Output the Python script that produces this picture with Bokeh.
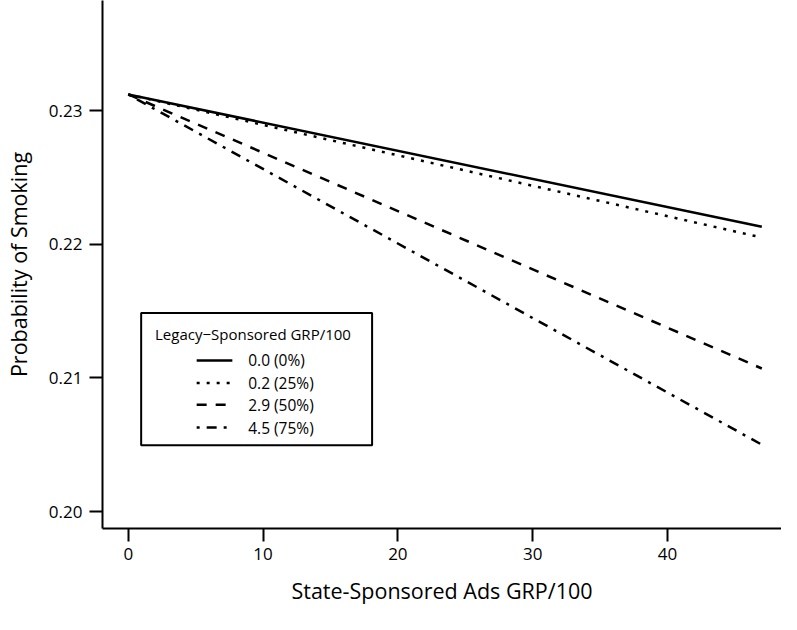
from bokeh.plotting import figure
from bokeh.models import Range1d, FixedTicker, PrintfTickFormatter
from bokeh.core.properties import value
from bokeh.embed import file_html
from bokeh.resources import INLINE

# ---- data ----
state_grp = [0, 47]
series_labels = ["0.0 (0%)", "0.2 (25%)", "2.9 (50%)", "4.5 (75%)"]
prob_0 = [0.2312, 0.2213]
prob_25 = [0.2312, 0.2205]
prob_50 = [0.2312, 0.2107]
prob_75 = [0.2312, 0.2050]
x_ticks = [0, 10, 20, 30, 40]
y_ticks = [0.20, 0.21, 0.22, 0.23]
legend_title = "Legacy\u2212Sponsored GRP/100"

FONT = "Open Sans"
dashes = ["solid", "3 7", "10 9", "3 7 10 7"]

p = figure(width=781, height=614, output_backend="svg", toolbar_location=None,
           x_range=Range1d(-1.912, 48.46), y_range=Range1d(0.19873, 0.23823),
           min_border_left=96, min_border_right=0, min_border_top=0, min_border_bottom=86)
p.outline_line_color = None
p.xgrid.visible = False
p.ygrid.visible = False
p.background_fill_color = "white"
p.border_fill_color = "white"

for ax in (p.xaxis[0], p.yaxis[0]):
    ax.axis_line_width = 2
    ax.major_tick_line_width = 2
    ax.major_tick_out = 13
    ax.major_tick_in = 0
    ax.minor_tick_line_color = None
    ax.major_label_text_font = FONT
    ax.major_label_text_font_size = "17px"
    ax.major_label_text_color = "black"
    ax.axis_label_text_font = FONT
    ax.axis_label_text_font_size = "21.5px"
    ax.axis_label_text_font_style = "normal"
    ax.axis_label_text_color = "black"
    ax.axis_line_color = "black"
    ax.major_tick_line_color = "black"

p.xaxis.ticker = FixedTicker(ticks=x_ticks)
p.yaxis.ticker = FixedTicker(ticks=y_ticks)
p.yaxis.formatter = PrintfTickFormatter(format="%.2f")
p.xaxis.axis_label = "State-Sponsored Ads GRP/100"
p.yaxis.axis_label = "Probability of Smoking"
p.xaxis.major_label_standoff = 6
p.yaxis.major_label_standoff = 7
p.xaxis.axis_label_standoff = 13
p.yaxis.axis_label_standoff = 13

series = [prob_0, prob_25, prob_50, prob_75]
for ys, d in zip(series, dashes):
    p.line(state_grp, ys, line_color="black", line_width=2.5, line_dash=d)

# ---- manual legend (positions converted from reference pixels to data coordinates) ----
def px_x(px):
    return (px - 130) / 13.6

def px_y(py):
    return 0.20 + (523 - py) / 13533.0

p.quad(left=[px_x(143)], right=[px_x(376)], top=[px_y(322)], bottom=[px_y(456)],
       fill_color="white", line_color="black", line_width=2)
p.text(x=[px_x(157)], y=[px_y(343)], text=[legend_title], text_font=value(FONT),
       text_font_size="15px", text_baseline="middle", text_align="left", text_color="black")
item_py = [370, 393, 415, 438]
for lab, d, py in zip(series_labels, dashes, item_py):
    p.line([px_x(199), px_x(235)], [px_y(py), px_y(py)], line_color="black",
           line_width=2.5, line_dash=d)
    p.text(x=[px_x(251)], y=[px_y(py)], text=[lab], text_font=value(FONT),
           text_font_size="15.5px", text_baseline="middle", text_align="left", text_color="black")

open("out.html", "w").write(file_html(p, INLINE))
